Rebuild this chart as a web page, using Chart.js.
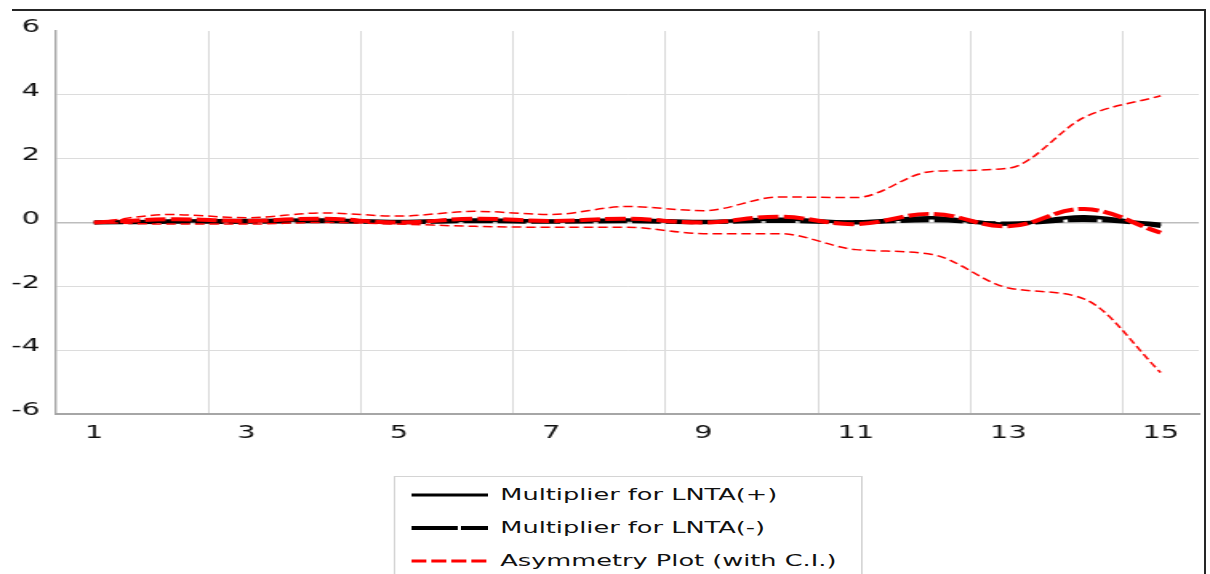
<!DOCTYPE html>
<html>
<head>
<meta charset="utf-8">
<script src="https://cdn.jsdelivr.net/npm/chart.js@4/dist/chart.umd.min.js"></script>
<style>
  html, body { margin: 0; padding: 0; background: #ffffff; overflow: hidden; }
  #frame { position: absolute; left: 12px; top: 9px; width: 1192px; height: 620px;
           border-top: 2px solid #262626; border-right: 2px solid #262626; }
  #stage { position: absolute; left: 0; top: 0; width: 756px; height: 574px;
           transform: scaleX(1.6005); transform-origin: 0 0; }
  #legend { position: absolute; left: 245.6px; top: 476px; width: 293px; height: 120px;
            border: 1px solid #d4d4d4; box-sizing: border-box; padding-top: 1px; background: #fff; }
  .row { height: 33px; display: flex; align-items: center; padding-left: 10px;
         font-family: "DejaVu Sans", sans-serif; font-size: 16px; color: #111; white-space: nowrap; }
  .row svg { margin-right: 8px; flex: none; }
</style>
</head>
<body>
<div id="frame"></div>
<div id="stage">
  <canvas id="c" width="756" height="574"></canvas>
  <div id="legend"></div>
</div>
<script>
// ---- data ----
const periods     = [1, 2, 3, 4, 5, 6, 7, 8, 9, 10, 11, 12, 13, 14, 15];
const xTickLabels = [1, 3, 5, 7, 9, 11, 13, 15];
const yTicks      = [-6, -4, -2, 0, 2, 4, 6];
const multPlus    = [0, 0.05, 0.06, 0.08, 0.03, 0.08, 0.05, 0.08, 0.03, 0.10, 0.02, 0.15, -0.05, 0.18, -0.12];
const multMinus   = [0, 0.02, 0.02, 0.04, 0.01, 0.04, 0.02, 0.04, 0.01, 0.05, 0.00, 0.07, -0.03, 0.08, -0.06];
const asymmetry   = [0, 0.10, 0.05, 0.12, 0.00, 0.12, 0.05, 0.12, 0.00, 0.18, -0.05, 0.27, -0.12, 0.42, -0.32];
const ciUpper     = [0, 0.25, 0.15, 0.30, 0.20, 0.35, 0.25, 0.50, 0.37, 0.80, 0.78, 1.60, 1.70, 3.30, 3.97];
const ciLower     = [0, -0.05, -0.05, 0.00, -0.05, -0.12, -0.15, -0.15, -0.35, -0.35, -0.85, -1.00, -2.05, -2.40, -4.70];
const legendLabels = ["Multiplier for LNTA(+)", "Multiplier for LNTA(-)", "Asymmetry Plot (with C.I.)"];

const pts = arr => arr.map((v, i) => ({ x: periods[i], y: v }));

const datasets = [
  { label: legendLabels[2], data: pts(asymmetry), borderColor: '#ff0000', borderWidth: 4,
    borderDash: [13, 3], tension: 0.4, order: 0 },
  { label: 'CI upper', data: pts(ciUpper), borderColor: '#ff0000', borderWidth: 1.5,
    borderDash: [6, 3], cubicInterpolationMode: 'monotone', order: 1 },
  { label: 'CI lower', data: pts(ciLower), borderColor: '#ff0000', borderWidth: 1.5,
    borderDash: [6, 3], cubicInterpolationMode: 'monotone', order: 1 },
  { label: legendLabels[0], data: pts(multPlus), borderColor: '#000000', borderWidth: 3.5,
    tension: 0.4, order: 2 },
  { label: legendLabels[1], data: pts(multMinus), borderColor: '#000000', borderWidth: 4,
    borderDash: [18, 3], tension: 0.4, order: 3 }
];

const gridTicks = xTickLabels.slice(0, -1).map(v => v + 1.5);

new Chart(document.getElementById('c'), {
  type: 'line',
  data: { datasets },
  options: {
    responsive: false,
    animation: false,
    devicePixelRatio: 1,
    layout: { padding: { left: 0, right: 7, top: 31, bottom: 120 } },
    elements: { point: { radius: 0 } },
    plugins: { legend: { display: false }, tooltip: { enabled: false } },
    scales: {
      x: {
        type: 'linear', min: 0.5, max: 15.5,
        afterBuildTicks: s => {
          const vals = xTickLabels.concat(gridTicks).sort((a, b) => a - b);
          s.ticks = vals.map(v => ({ value: v }));
        },
        afterFit: s => { s.height = 40; },
        ticks: {
          autoSkip: false, maxRotation: 0, padding: 9,
          color: '#111', font: { family: 'DejaVu Sans', size: 18 },
          callback: v => (Number.isInteger(v) ? String(v) : '')
        },
        grid: {
          drawTicks: false,
          color: c => (c.tick && !Number.isInteger(c.tick.value) ? '#d9d9d9' : 'rgba(0,0,0,0)'),
          lineWidth: 1
        },
        border: { display: true, color: '#a6a6a6', width: 2 }
      },
      y: {
        min: -6, max: 6,
        afterBuildTicks: s => { s.ticks = yTicks.map(v => ({ value: v })); },
        afterFit: s => { s.width = 35; },
        ticks: { padding: 10, labelOffset: -3.5, color: '#111', font: { family: 'DejaVu Sans', size: 18 } },
        grid: {
          drawTicks: false,
          color: c => {
            const v = c.tick ? c.tick.value : null;
            if (v === 6 || v === -6) return 'rgba(0,0,0,0)';
            return v === 0 ? '#bdbdbd' : '#dcdcdc';
          },
          lineWidth: c => (c.tick && c.tick.value === 0 ? 1.5 : 1)
        },
        border: { display: true, color: '#a6a6a6', width: 1.4 }
      }
    }
  }
});

// ---- legend (HTML, built from the labels) ----
const samples = [
  { color: '#000', width: 3, dash: '' },
  { color: '#000', width: 4, dash: '29 2' },
  { color: '#ff0000', width: 3, dash: '9.4 3.1' }
];
const lg = document.getElementById('legend');
legendLabels.forEach((txt, i) => {
  const s = samples[i];
  const row = document.createElement('div');
  row.className = 'row';
  row.innerHTML = '<svg width="48" height="8"><line x1="0" y1="4" x2="48" y2="4" stroke="' + s.color +
    '" stroke-width="' + s.width + '"' + (s.dash ? ' stroke-dasharray="' + s.dash + '"' : '') + '/></svg>';
  const span = document.createElement('span');
  span.textContent = txt;
  row.appendChild(span);
  lg.appendChild(row);
});
</script>
</body>
</html>
